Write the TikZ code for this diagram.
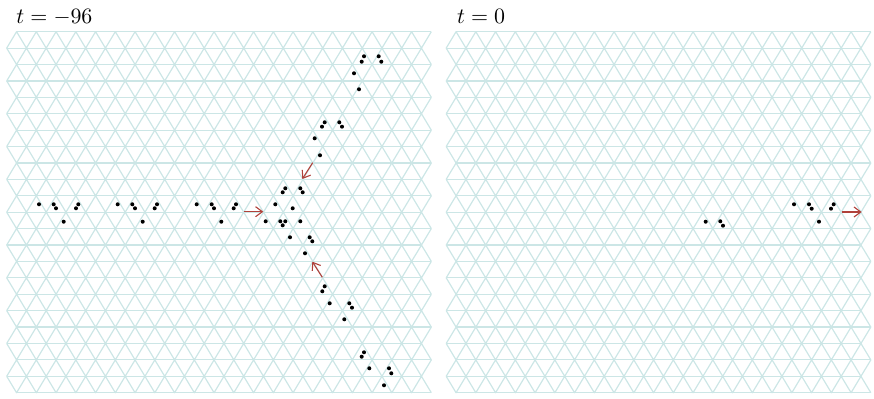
\documentclass[tikz,border=0pt]{standalone}
\usepackage{tikz}
\usetikzlibrary{arrows.meta}
\definecolor{gridteal}{HTML}{CCE6E6}
\definecolor{arrowred}{HTML}{B0413A}

\tikzset{
  grid line/.style={gridteal, line width=0.6pt, line join=round},
  celldot/.style={fill=black},
  move/.style={arrowred, line width=0.55pt, -{Straight Barb[length=3.4pt, width=5pt]}},
  stamp/.style={anchor=base west, font=\fontsize{11.4}{13}\selectfont, inner sep=0pt}
}

% triangular lattice of one panel, #1 = left edge
\newcommand{\trilattice}[1]{%
  \foreach \r in {0,...,22}{
    \pgfmathsetmacro{\yy}{31.7+16.41*\r}
    \pgfmathsetmacro{\xa}{#1+mod(\r+1,2)*9.875}
    \draw[grid line] (\xa,\yy) -- ++(21*19.75,0);
  }
  \foreach \r in {0,...,21}{
    \pgfmathsetmacro{\yo}{31.7+16.41*(\r+mod(\r+1,2))}
    \pgfmathsetmacro{\ye}{31.7+16.41*(\r+mod(\r,2))}
    \draw[grid line] (#1,\yo) \foreach \k in {0,...,20}{ -- ({#1+9.875+19.75*\k},\ye) -- ({#1+19.75*(\k+1)},\yo)} -- ({#1+9.875+19.75*21},\ye);
  }
}

\begin{document}
\begin{tikzpicture}[x=0.5pt, y=-0.5pt]
  \useasboundingbox (0,0) rectangle (874,399);

  % lattices
  \trilattice{6.7}
  \trilattice{446.2}

  % titles
  \node[stamp] (title past) at (16,24) {$t=-96$};
  \node[stamp] (title now) at (456.7,24) {$t=0$};

  % cells, t = -96
  \foreach \p in {(39,204.3),(53.7,204.3),(56,208.3),(78.3,204.3),(76,208.3),(63.7,221.7),
                  (117.7,204.3),(132.3,204.3),(135,208.3),(157,204.3),(154.7,208.3),(142.7,221.7),
                  (196.7,204.3),(211.7,204.3),(214,208.3),(236,204.3),(233.7,208.3),(221.3,221.7),
                  (285.3,188.3),(282.7,192.3),(300.3,188.3),(302.7,192.3),(275.3,204.3),(292.7,208.3),
                  (265.7,221.3),(280.3,221.3),(285.3,221.3),(282.7,225.3),(300.3,221.3),
                  (290,237.3),(309.7,237.3),(312.3,241.3),(305,253.3),
                  (364,56.3),(361.7,61.7),(378.7,56.3),(381.3,61.7),(354,73.3),(359,89.3),
                  (324.7,122.3),(322,126.7),(339.3,122.3),(342,126.7),(314.7,138.3),(320,155.3),
                  (324.7,286.3),(322.3,291.3),(329.7,303.3),(349.3,303.3),(352,307.7),(344.3,319.3),
                  (364,352.3),(361.7,356.7),(369.3,368.3),(389,368.3),(391.3,373.3),(384,385.3)}
    \fill[celldot] \p circle (1pt);

  % cells, t = 0
  \foreach \p in {(705.7,221.7),(720.3,221.3),(723,225.7),
                  (794,204.3),(809,204.3),(811.7,208.7),(833.7,204.3),(831,208.7),(819,221.7)}
    \fill[celldot] \p circle (1pt);

  % directions
  \coordinate (east tail) at (244.3,211.7);
  \coordinate (east head) at (263.3,211.7);
  \coordinate (upper tail) at (312.7,162.7);
  \coordinate (upper head) at (302.3,179);
  \coordinate (lower tail) at (322.3,277.3);
  \coordinate (lower head) at (312.3,261.7);
  \coordinate (out tail) at (841.7,212);
  \coordinate (out head) at (861.7,212);
  \draw[move] (east tail) -- (east head);
  \draw[move] (upper tail) -- (upper head);
  \draw[move] (lower tail) -- (lower head);
  \draw[move] (out tail) -- (out head);
\end{tikzpicture}
\end{document}
